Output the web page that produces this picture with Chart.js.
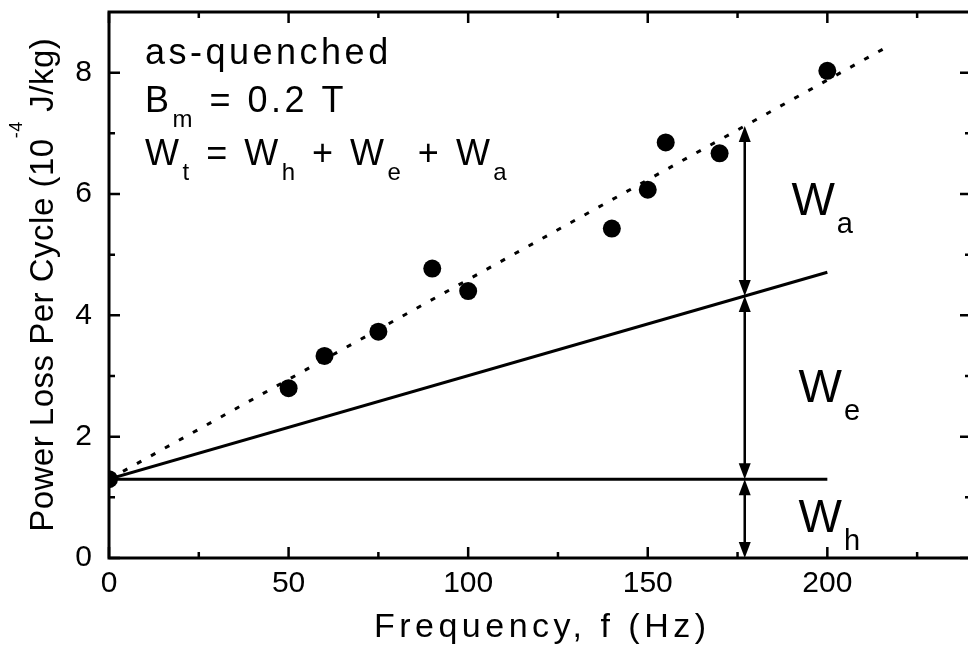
<!DOCTYPE html>
<html>
<head>
<meta charset="utf-8">
<script src="https://cdn.jsdelivr.net/npm/chart.js@4.4.0/dist/chart.umd.min.js"></script>
<style>
  html, body { margin: 0; padding: 0; background: #fff; overflow: hidden; }
  #wrap { width: 980px; height: 658px; }
</style>
</head>
<body>
<div id="wrap"><canvas id="lossChart" width="980" height="658"></canvas></div>
<script>
// measured loss per cycle, as-quenched, Bm = 0.2 T
const freq = [0, 50, 60, 75, 90, 100, 140, 150, 155, 170, 200];
const loss = [1.3, 2.80, 3.33, 3.73, 4.77, 4.40, 5.43, 6.07, 6.85, 6.67, 8.03];

// fitted lines, end points
const totalFitX = [0, 218];
const totalFitY = [1.3, 8.47];
const eddyFitX = [0, 200];
const eddyFitY = [1.3, 4.71];
const hystFitX = [0, 200];
const hystFitY = [1.3, 1.3];

// double arrows at 177 Hz: Wa, We, Wh
const arrowFreq = 177;
const arrowLevels = [7.12, 4.32, 1.3, 0];

const xTicks = [0, 50, 100, 150, 200];
const xMinor = [25, 75, 125, 175, 225];
const yTicks = [0, 2, 4, 6, 8];
const yMinor = [1, 3, 5, 7];

const FONT = '"Liberation Sans", Arial, sans-serif';

function pts(xs, ys) {
    return xs.map((x, i) => ({x: x, y: ys[i]}));
}

// draw text pieces one after another: [text, size, dy]
function runs(ctx, x, y, parts, spacing) {
    ctx.letterSpacing = spacing + 'px';
    for (const [t, size, dy] of parts) {
        ctx.font = size + 'px ' + FONT;
        ctx.fillText(t, x, y + (dy || 0));
        x += ctx.measureText(t).width;
    }
    ctx.letterSpacing = '0px';
    return x;
}

function runsWidth(ctx, parts, spacing) {
    ctx.letterSpacing = spacing + 'px';
    let w = 0;
    for (const [t, size] of parts) {
        ctx.font = size + 'px ' + FONT;
        w += ctx.measureText(t).width;
    }
    ctx.letterSpacing = '0px';
    return w - spacing;
}

function arrowHead(ctx, x, y, dir) {
    // dir = -1 points up, 1 points down
    ctx.beginPath();
    ctx.moveTo(x, y);
    ctx.lineTo(x - 6, y - dir * 16);
    ctx.lineTo(x + 6, y - dir * 16);
    ctx.closePath();
    ctx.fill();
}

const framePlugin = {
    id: 'frame',
    afterDatasetsDraw(chart) {
        const {ctx, chartArea: a, scales: {x, y}} = chart;
        ctx.save();
        ctx.strokeStyle = '#000';
        ctx.fillStyle = '#000';

        ctx.lineWidth = 3;
        ctx.strokeRect(a.left, a.top, a.right - a.left, a.bottom - a.top);

        ctx.lineWidth = 2.5;
        ctx.beginPath();
        const xt = (v, len) => {
            const px = x.getPixelForValue(v);
            ctx.moveTo(px, a.bottom); ctx.lineTo(px, a.bottom - len);
            ctx.moveTo(px, a.top); ctx.lineTo(px, a.top + len);
        };
        const yt = (v, len) => {
            const py = y.getPixelForValue(v);
            ctx.moveTo(a.left, py); ctx.lineTo(a.left + len, py);
            ctx.moveTo(a.right, py); ctx.lineTo(a.right - len, py);
        };
        xTicks.forEach(v => xt(v, 11));
        xMinor.forEach(v => xt(v, 6));
        yTicks.forEach(v => yt(v, 11));
        yMinor.forEach(v => yt(v, 6));
        ctx.stroke();

        // double arrows
        const ax = x.getPixelForValue(arrowFreq);
        ctx.lineWidth = 2.5;
        for (let i = 0; i < arrowLevels.length - 1; i++) {
            const y1 = y.getPixelForValue(arrowLevels[i]);
            const y2 = y.getPixelForValue(arrowLevels[i + 1]);
            ctx.beginPath();
            ctx.moveTo(ax, y1 + 10);
            ctx.lineTo(ax, y2 - 10);
            ctx.stroke();
            arrowHead(ctx, ax, y1, -1);
            arrowHead(ctx, ax, y2, 1);
        }

        // loss component labels
        ctx.textAlign = 'left';
        ctx.textBaseline = 'alphabetic';
        const parts = [['a', 190, 5.65], ['e', 192, 2.57], ['h', 192, 0.43]];
        parts.forEach(([s, fx, fy]) => {
            runs(ctx, x.getPixelForValue(fx), y.getPixelForValue(fy),
                [['W', 46], [s, 29, 18]], 2);
        });

        // annotation, top left
        runs(ctx, 145, 64, [['as-quenched', 36]], 3.5);
        runs(ctx, 145, 112, [['B', 36], ['m', 24, 15], [' = 0.2 T', 36]], 3.5);
        runs(ctx, 145, 165, [['W', 36], ['t', 24, 15], [' = W', 36], ['h', 24, 15],
            [' + W', 36], ['e', 24, 15], [' + W', 36], ['a', 24, 15]], 3.5);

        // x title
        const xTitle = [['Frequency, f (Hz)', 34]];
        const xw = runsWidth(ctx, xTitle, 4.5);
        runs(ctx, (a.left + a.right) / 2 - xw / 2, 637, xTitle, 4.5);

        // y title with superscript
        const yTitle = [['Power Loss Per Cycle (10', 33], ['-4', 18, -31], [' J/kg)', 33]];
        const yw = runsWidth(ctx, yTitle, 0.5);
        ctx.translate(53, (a.top + a.bottom) / 2);
        ctx.rotate(-Math.PI / 2);
        runs(ctx, -yw / 2, 0, yTitle, 0.5);

        ctx.restore();
    }
};

const lineStyle = {
    showLine: true,
    pointRadius: 0,
    borderColor: '#000',
    borderWidth: 3,
    fill: false
};

new Chart('lossChart', {
    type: 'scatter',
    data: {
        datasets: [
            {
                data: pts(freq, loss),
                pointRadius: 9,
                pointBackgroundColor: '#000',
                pointBorderWidth: 0,
                showLine: false
            },
            Object.assign({data: pts(totalFitX, totalFitY), borderDash: [5, 11]}, lineStyle),
            Object.assign({data: pts(eddyFitX, eddyFitY)}, lineStyle),
            Object.assign({data: pts(hystFitX, hystFitY)}, lineStyle)
        ]
    },
    options: {
        responsive: false,
        animation: false,
        devicePixelRatio: 1,
        layout: {padding: {top: 12, right: 3, left: 0, bottom: 0}},
        plugins: {legend: {display: false}, tooltip: {enabled: false}},
        scales: {
            x: {
                type: 'linear',
                min: 0,
                max: 240,
                grid: {display: false, drawTicks: false},
                border: {display: false},
                afterBuildTicks: s => { s.ticks = xTicks.map(v => ({value: v})); },
                afterFit: s => { s.height = 100; s.paddingLeft = 0; s.paddingRight = 0; },
                ticks: {
                    font: {family: FONT, size: 30},
                    color: '#000',
                    padding: 8,
                    maxRotation: 0,
                    autoSkip: false
                }
            },
            y: {
                type: 'linear',
                min: 0,
                max: 9,
                grid: {display: false, drawTicks: false},
                border: {display: false},
                afterBuildTicks: s => { s.ticks = yTicks.map(v => ({value: v})); },
                afterFit: s => { s.width = 109; s.paddingTop = 0; s.paddingBottom = 0; },
                ticks: {
                    font: {family: FONT, size: 30},
                    color: '#000',
                    padding: 17,
                    autoSkip: false
                }
            }
        }
    },
    plugins: [framePlugin]
});
</script>
</body>
</html>
